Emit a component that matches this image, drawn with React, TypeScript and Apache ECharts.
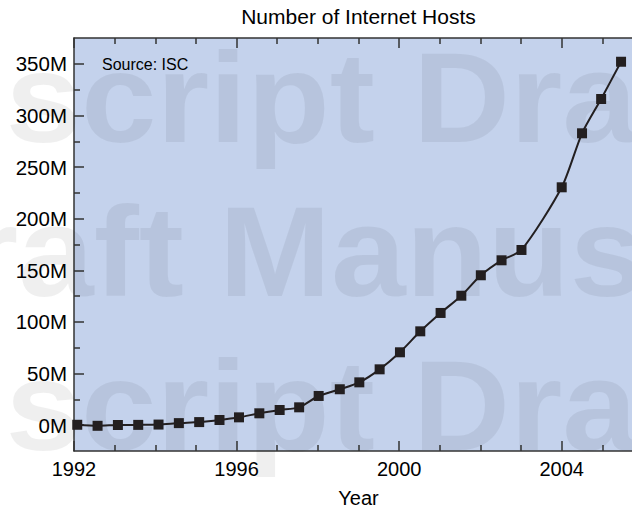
import React, { useEffect, useRef } from "react";
import * as echarts from "echarts";

// Survey dates (decimal years) and host counts (millions)
const surveyYears = [
  1992.08, 1992.58, 1993.08, 1993.58, 1994.08, 1994.58, 1995.08, 1995.58,
  1996.06, 1996.56, 1997.06, 1997.54, 1998.02, 1998.54, 1999.02, 1999.52,
  2000.02, 2000.52, 2001.02, 2001.53, 2002.01, 2002.52, 2003.01, 2004.0,
  2004.5, 2004.97, 2005.46,
];
const hostsMillions = [
  0.4, -0.6, 0.2, 0.3, 0.6, 2.0, 3.0, 5.0,
  7.6, 11.5, 14.7, 17.3, 28.3, 34.8, 41.5, 54.1,
  70.6, 90.9, 108.7, 125.4, 145.2, 159.7, 169.7, 230.4,
  282.7, 315.9, 352.0,
];

const yLabelValues = [0, 50, 100, 150, 200, 250, 300, 350];
const yMinorValues = [25, 75, 125, 175, 225, 275, 325];
const xLabelValues = [1992, 1996, 2000, 2004];
const xMinorValues = [1993, 1994, 1995, 1997, 1998, 1999, 2001, 2002, 2003, 2005];

const titleText = "Number of Internet Hosts";
const xAxisTitle = "Year";
const sourceNote = "Source: ISC";
const watermarkRows = [
  { first: "Manuscript", second: "Draft" },
  { first: "Draft", second: "Manuscript" },
  { first: "Manuscript", second: "Draft" },
];

const FONT = "'Liberation Sans', Helvetica, Arial, sans-serif";
const AXIS_COLOR = "#333333";
const LINE_COLOR = "#231f20";

export default function App() {
  const ref = useRef<HTMLDivElement>(null);

  useEffect(() => {
    if (!ref.current) return;
    const chart = echarts.init(ref.current, null, { renderer: "svg" });

    const axisLineStyle = { color: AXIS_COLOR, width: 1.5 };
    const xCommon = {
      type: "value" as const,
      min: 1992,
      max: 2006,
      splitLine: { show: false },
      gridIndex: 0,
    };
    const yCommon = {
      type: "value" as const,
      min: -25,
      max: 375,
      splitLine: { show: false },
      gridIndex: 0,
    };

    // watermark layout
    const rowMiddles = [98, 252, 406];
    const rowSplits = [
      { endFirst: 375, startSecond: 413 },
      { endFirst: 184, startSecond: 219 },
      { endFirst: 375, startSecond: 413 },
    ];
    const wmStyle = {
      fontSize: 128,
      fontWeight: "bold" as const,
      fontFamily: FONT,
      fill: "rgba(0,0,0,0.062)",
      verticalAlign: "middle" as const,
    };
    const watermark: any[] = [];
    watermarkRows.forEach((row, i) => {
      watermark.push({
        type: "text",
        x: rowSplits[i].endFirst,
        y: rowMiddles[i],
        scaleX: 1.06,
        z: 1,
        silent: true,
        style: { ...wmStyle, text: row.first, align: "right" },
      });
      watermark.push({
        type: "text",
        x: rowSplits[i].startSecond,
        y: rowMiddles[i],
        scaleX: 1.05,
        z: 1,
        silent: true,
        style: { ...wmStyle, text: row.second, align: "left" },
      });
    });

    chart.setOption({
      animation: false,
      grid: {
        left: 74,
        right: 17,
        top: 38,
        bottom: 59,
        show: true,
        backgroundColor: "#c4d2ec",
        borderWidth: 0,
        containLabel: false,
        outerBoundsMode: "none",
      },
      xAxis: [
        {
          ...xCommon,
          position: "bottom",
          axisLine: { show: true, onZero: false, lineStyle: axisLineStyle },
          axisTick: {
            show: true,
            inside: true,
            length: 10,
            customValues: xLabelValues,
            lineStyle: axisLineStyle,
          },
          axisLabel: {
            show: true,
            customValues: xLabelValues,
            formatter: (v: number) => String(v),
            fontSize: 20,
            fontFamily: FONT,
            color: "#000",
            margin: 8,
          },
          name: xAxisTitle,
          nameLocation: "middle",
          nameGap: 37,
          nameTextStyle: { fontSize: 20, fontFamily: FONT, color: "#000" },
        },
        {
          ...xCommon,
          position: "bottom",
          axisLine: { show: false, onZero: false },
          axisTick: {
            show: true,
            inside: true,
            length: 6,
            customValues: xMinorValues,
            lineStyle: axisLineStyle,
          },
          axisLabel: { show: false },
        },
        {
          ...xCommon,
          position: "top",
          axisLine: { show: true, onZero: false, lineStyle: axisLineStyle },
          axisTick: {
            show: true,
            inside: true,
            length: 10,
            customValues: xLabelValues,
            lineStyle: axisLineStyle,
          },
          axisLabel: { show: false },
        },
        {
          ...xCommon,
          position: "top",
          axisLine: { show: false, onZero: false },
          axisTick: {
            show: true,
            inside: true,
            length: 6,
            customValues: xMinorValues,
            lineStyle: axisLineStyle,
          },
          axisLabel: { show: false },
        },
      ],
      yAxis: [
        {
          ...yCommon,
          position: "left",
          axisLine: { show: true, onZero: false, lineStyle: axisLineStyle },
          axisTick: {
            show: true,
            inside: true,
            length: 10,
            customValues: yLabelValues,
            lineStyle: axisLineStyle,
          },
          axisLabel: {
            show: true,
            customValues: yLabelValues,
            formatter: (v: number) => `${v}M`,
            fontSize: 20.5,
            fontFamily: FONT,
            color: "#000",
            margin: 7,
          },
        },
        {
          ...yCommon,
          position: "left",
          axisLine: { show: false, onZero: false },
          axisTick: {
            show: true,
            inside: true,
            length: 6,
            customValues: yMinorValues,
            lineStyle: axisLineStyle,
          },
          axisLabel: { show: false },
        },
      ],
      graphic: {
        elements: [
          ...watermark,
          {
            type: "text",
            x: 358.5,
            y: 16.5,
            z: 5,
            style: {
              text: titleText,
              fontSize: 21,
              fontFamily: FONT,
              fill: "#000",
              align: "center",
              verticalAlign: "middle",
            },
          },
          {
            type: "text",
            x: 102,
            y: 64,
            z: 5,
            style: {
              text: sourceNote,
              fontSize: 16,
              fontFamily: FONT,
              fill: "#000",
              align: "left",
              verticalAlign: "middle",
            },
          },
        ],
      },
      series: [
        {
          type: "line",
          xAxisIndex: 0,
          yAxisIndex: 0,
          data: surveyYears.map((x, i) => [x, hostsMillions[i]]),
          smooth: 0.25,
          symbol: "rect",
          symbolSize: 10,
          clip: false,
          z: 3,
          lineStyle: { color: LINE_COLOR, width: 2 },
          itemStyle: { color: LINE_COLOR },
        },
      ],
    });

    return () => chart.dispose();
  }, []);

  return (
    <div
      style={{
        position: "fixed",
        left: 0,
        top: 0,
        width: 632,
        height: 510,
        overflow: "hidden",
        background: "#fff",
      }}
    >
      <div ref={ref} style={{ width: 660, height: 510 }} />
    </div>
  );
}
